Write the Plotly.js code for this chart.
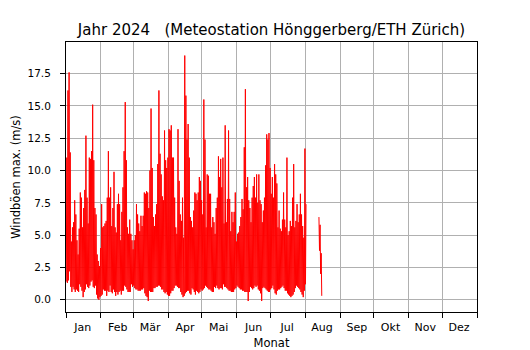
<!DOCTYPE html>
<html>
<head>
<meta charset="utf-8">
<script src="https://cdn.plot.ly/plotly-3.0.1.min.js"></script>
<style>body{margin:0;padding:0;background:#fff}#chart{width:530px;height:350px}</style>
</head>
<body>
<div id="chart"></div>
<script>
// Daily maximum gust (m/s), from 2024-01-01 onward
const dailyMax = [
11.0,16.2,17.6,11.4,4.5,5.6,6.0,7.7,6.6,4.6,
3.5,5.5,8.3,7.9,5.6,7.1,8.5,12.7,7.9,5.9,
11.0,10.9,11.5,15.1,10.8,7.1,6.6,3.5,3.0,2.6,
4.0,7.4,5.6,5.7,5.9,6.1,7.9,11.5,7.9,8.7,
5.7,7.1,9.9,5.6,5.2,7.4,8.2,7.4,4.6,6.8,
8.7,11.5,15.3,10.8,5.6,5.1,6.2,5.1,4.6,3.9,
4.6,5.0,7.4,6.6,5.9,5.3,6.5,5.7,6.5,8.3,
8.2,8.4,8.3,7.1,10.0,14.8,10.2,6.4,5.7,6.6,
7.4,10.5,16.2,11.3,9.7,8.0,7.7,13.1,10.8,10.2,
11.0,13.2,13.1,13.5,11.0,11.0,7.9,5.6,5.1,13.2,
9.2,6.6,6.1,7.9,4.8,18.9,15.8,12.4,13.6,11.0,
6.4,6.1,5.6,6.9,8.3,8.2,7.7,8.3,9.5,9.2,
7.7,6.6,15.5,12.4,5.6,9.7,9.6,8.2,8.2,5.6,
6.4,6.0,5.1,7.1,7.9,11.1,9.5,10.9,8.7,11.0,
5.9,13.5,6.0,7.8,13.1,7.8,5.3,6.8,6.0,6.8,
8.3,4.5,5.1,5.2,5.7,6.4,7.8,7.0,11.8,16.3,
8.7,9.5,7.7,7.1,6.0,7.9,8.8,9.5,7.9,9.7,
7.5,9.7,7.7,7.4,6.0,6.9,7.9,10.4,12.8,12.4,
12.9,10.2,8.2,9.5,7.9,10.5,9.7,9.0,5.6,6.9,
5.5,5.3,6.2,8.3,6.2,5.6,11.0,5.0,5.3,6.1,
5.7,7.9,10.5,5.6,6.1,7.4,6.0,6.6,8.2,6.6,
5.7,4.8,11.7,7.4
];
// Daily minimum gust (m/s)
const dailyMin = [
1.4,1.3,1.5,2.2,1.0,0.6,1.0,0.8,0.6,0.8,
0.7,0.6,1.2,1.0,0.7,0.2,0.6,0.8,1.2,1.0,
0.9,1.1,1.4,1.5,1.0,0.9,1.1,0.4,0.1,0.0,
0.2,0.3,0.4,0.8,0.7,0.7,0.3,0.7,0.6,1.1,
0.6,0.5,0.8,0.6,0.3,0.6,0.4,0.6,0.7,0.4,
0.7,0.7,1.1,1.0,0.8,0.6,0.6,0.6,1.2,1.0,
1.1,0.9,0.8,0.8,0.7,0.7,0.7,0.8,0.8,0.9,
0.5,0.3,0.2,-0.1,0.7,0.6,0.6,0.6,0.9,0.9,
1.0,1.0,1.1,1.1,1.0,0.8,0.8,0.6,0.5,0.6,
0.4,0.3,0.3,0.5,0.7,0.7,0.9,1.1,1.1,1.0,
0.9,0.9,0.6,0.4,0.2,0.3,0.5,0.6,0.7,0.7,
0.5,0.4,0.9,0.8,0.6,0.4,0.7,0.6,0.5,0.6,
0.8,0.7,0.8,0.9,1.1,1.0,0.9,0.8,0.8,0.7,
0.6,0.6,1.0,0.9,1.1,0.9,0.8,0.9,0.9,0.8,
1.2,1.0,1.0,0.9,0.8,0.7,0.7,0.6,0.6,0.6,
0.8,0.9,1.1,1.0,0.9,0.8,0.8,0.7,0.7,0.6,
0.6,0.6,-0.1,0.6,1.0,0.9,0.8,0.9,1.1,1.0,
1.1,0.8,0.7,0.5,-0.1,0.9,1.0,0.9,0.8,0.7,
0.6,0.6,0.8,0.9,1.1,0.8,0.5,0.4,0.7,0.8,
0.8,0.9,1.0,1.1,0.9,0.7,0.7,0.5,0.4,0.3,
0.2,0.3,0.4,0.6,0.9,1.1,1.0,0.9,0.8,0.6,
0.4,0.2,0.7,1.2
];
// Short segment in August (day-of-year index 225 = 13 Aug)
const augStartDay = 225;
const augMax = [6.4, 5.8, 3.6];
const augMin = [3.8, 2.0, 0.3];

const monthNames = ['Jan','Feb','Mär','Apr','Mai','Jun','Jul','Aug','Sep','Okt','Nov','Dez'];
const yTicks = [0, 2.5, 5, 7.5, 10, 12.5, 15, 17.5];

function dt(day, hours) {
  const t = Date.UTC(2024, 0, 1) + (day * 24 + hours) * 3600e3;
  return new Date(t).toISOString().slice(0, 19).replace('T', ' ');
}

const xs = [], ys = [];
for (let i = 0; i < dailyMax.length; i++) {
  xs.push(dt(i, 6));  ys.push(dailyMin[i]);
  xs.push(dt(i, 18)); ys.push(dailyMax[i]);
}
xs.push(dt(dailyMax.length, 12)); ys.push(null);
for (let i = 0; i < augMax.length; i++) {
  xs.push(dt(augStartDay + i, 6));  ys.push(augMax[i]);
  xs.push(dt(augStartDay + i, 18)); ys.push(augMin[i]);
}

const monthStarts = [], monthMids = [];
for (let m = 0; m < 12; m++) {
  const mm = String(m + 1).padStart(2, '0');
  monthStarts.push('2024-' + mm + '-01');
  monthMids.push('2024-' + mm + '-16');
}
monthStarts.push('2025-01-01');

const xRange = ['2024-01-01', '2025-01-01'];
const fam = 'DejaVu Sans';
const xTickFont = {family: fam, size: 11, color: '#000'};
const yTickFont = {family: fam, size: 10.5, color: '#000'};
const labelFont = {family: fam, size: 11.5, color: '#000'};

const traces = [
  {x: xs, y: ys, type: 'scatter', mode: 'lines', connectgaps: false,
   line: {color: '#ff0000', width: 1}, hoverinfo: 'skip', showlegend: false},
  {x: [], y: [], xaxis: 'x2', type: 'scatter', mode: 'lines', showlegend: false}
];

const layout = {
  width: 530, height: 350,
  margin: {l: 66, r: 53, t: 42, b: 38, pad: 0},
  paper_bgcolor: '#fff', plot_bgcolor: '#fff',
  font: {family: fam, size: 11, color: '#000'},
  showlegend: false,
  title: {text: 'Jahr 2024   (Meteostation Hönggerberg/ETH Zürich)',
          font: {family: fam, size: 15, color: '#000'},
          x: 0.5, xanchor: 'center', xref: 'paper', y: 1, yref: 'paper', yanchor: 'bottom', pad: {b: 7}},
  xaxis: {type: 'date', range: xRange, tickmode: 'array', tickvals: monthStarts,
          showticklabels: false, ticks: 'outside', ticklen: 5, tickwidth: 1, tickcolor: '#000',
          showgrid: true, gridcolor: '#b0b0b0', gridwidth: 1, zeroline: false,
          showline: true, linecolor: '#000', linewidth: 1, mirror: true, fixedrange: true},
  xaxis2: {type: 'date', range: xRange, overlaying: 'x', anchor: 'y', side: 'bottom',
           tickmode: 'array', tickvals: monthMids, ticktext: monthNames, ticks: '',
           ticklabelstandoff: 7,
           showgrid: false, zeroline: false, showline: false, tickfont: xTickFont,
           title: {text: 'Monat', font: labelFont, standoff: 5}},
  yaxis: {range: [-0.95, 19.95], tickmode: 'array', tickvals: yTicks,
          ticktext: yTicks.map(v => v.toFixed(1)),
          ticks: 'outside', ticklen: 5, tickwidth: 1, tickcolor: '#000', tickfont: yTickFont,
          ticklabelstandoff: 7,
          showgrid: true, gridcolor: '#b0b0b0', gridwidth: 1, zeroline: false,
          showline: true, linecolor: '#000', linewidth: 1, mirror: true,
          title: {text: 'Windböen max. (m/s)', font: labelFont, standoff: 4}}
};

Plotly.newPlot('chart', traces, layout, {displayModeBar: false, staticPlot: true});
</script>
</body>
</html>
